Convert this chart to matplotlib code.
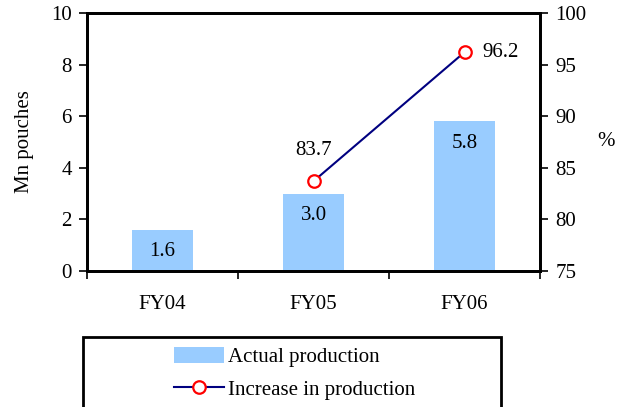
import matplotlib
matplotlib.use("Agg")
import matplotlib.pyplot as plt
from matplotlib.patches import Rectangle, Patch
from matplotlib.lines import Line2D

categories = ["FY04", "FY05", "FY06"]
production = [1.6, 3.0, 5.8]          # Mn pouches
increase_cats = ["FY05", "FY06"]
increase_pct = [83.7, 96.2]           # %

plt.rcParams["font.family"] = ["Liberation Serif", "DejaVu Serif"]
plt.rcParams["font.size"] = 15

fig = plt.figure(figsize=(6.34, 4.07), dpi=100)
ax = fig.add_axes([87 / 634, 1 - 271 / 407, 453 / 634, 258 / 407])

x = list(range(len(categories)))
ax.bar(x, production, width=0.4, color="#99ccff", zorder=2)
ax.set_xlim(-0.5, len(categories) - 0.5)
ax.set_ylim(0, 10)
ax.set_yticks(range(0, 11, 2))
ax.set_xticks([i + 0.5 for i in range(-1, len(categories))])
ax.set_xticklabels([])
ax.set_xticks(x, minor=True)
ax.set_xticklabels(categories, minor=True)
ax.tick_params(axis="x", which="minor", length=0, pad=17)
ax.tick_params(axis="x", which="major", length=6, width=1.2, direction="out")
ax.tick_params(axis="y", length=6, width=1.2, direction="out", pad=5)
ax.set_ylabel("Mn pouches", labelpad=12)
for s in ax.spines.values():
    s.set_linewidth(2)

for xi, v in zip(x, production):
    ax.annotate(f"{v:.1f}", (xi, v), xytext=(0, -16), textcoords="offset points",
                ha="center", va="center")

ax2 = ax.twinx()
ax2.set_ylim(75, 100)
ax2.set_yticks(range(75, 101, 5))
ax2.tick_params(axis="y", length=6, width=1.2, direction="out", pad=5)
ax2.set_ylabel("%", rotation=0, labelpad=14, va="center")
for s in ax2.spines.values():
    s.set_linewidth(2)

xi_inc = [categories.index(c) for c in increase_cats]
ax2.plot(xi_inc, increase_pct, color="#000080", lw=1.5, marker="o", ms=9,
         mfc="white", mec="red", mew=1.6, zorder=3)
ax2.annotate(f"{increase_pct[0]:.1f}", (xi_inc[0], increase_pct[0]), xytext=(0, 22),
             textcoords="offset points", ha="center", va="center")
ax2.annotate(f"{increase_pct[1]:.1f}", (xi_inc[1], increase_pct[1]), xytext=(13, 0),
             textcoords="offset points", ha="left", va="center")

# legend box
fig.patches.append(Rectangle((83 / 634, -0.1), (501 - 83) / 634, 0.1 + (407 - 337) / 407,
                             transform=fig.transFigure, fill=False, ec="black", lw=2))
handles = [Patch(fc="#99ccff", ec="none"),
           Line2D([], [], color="#000080", lw=1.5, marker="o", ms=9, mfc="white",
                  mec="red", mew=1.6)]
fig.legend(handles, ["Actual production", "Increase in production"],
           loc="upper left", bbox_to_anchor=(155 / 634, 1 - 328 / 407), frameon=False,
           handlelength=2.4, handleheight=0.8, handletextpad=0.2, labelspacing=0.6,
           fontsize=15)

fig.savefig("out.png", dpi=100)
